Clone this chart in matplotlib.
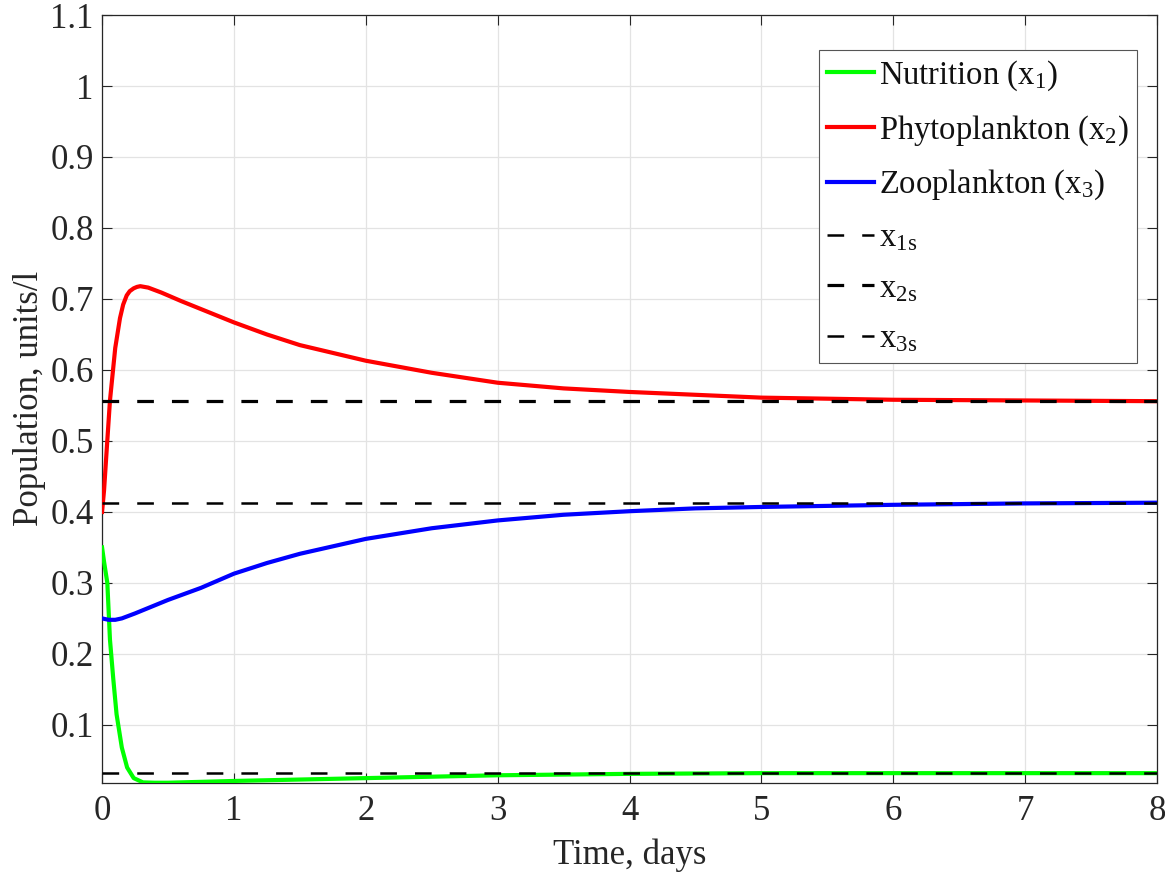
import matplotlib
matplotlib.use("Agg")
import matplotlib.pyplot as plt

plt.rcParams['font.family'] = ['Liberation Serif', 'DejaVu Serif']
plt.rcParams['mathtext.fontset'] = 'custom'
plt.rcParams['mathtext.rm'] = 'Liberation Serif'
plt.rcParams['mathtext.it'] = 'Liberation Serif:italic'
plt.rcParams['lines.scale_dashes'] = False

# ---- data ----
t_nut = [0, 0.015, 0.04, 0.06, 0.085, 0.11, 0.15, 0.19, 0.24, 0.31, 0.4, 0.5, 0.7,
         1.0, 1.5, 2.0, 2.5, 3.0, 3.5, 4.0, 5.0, 6.0, 7.0, 8.0]
nutrition = [0.35, 0.33, 0.30, 0.22, 0.165, 0.115, 0.068, 0.040, 0.025, 0.019, 0.0185,
             0.0185, 0.0195, 0.021, 0.023, 0.025, 0.027, 0.029, 0.030, 0.031, 0.032,
             0.032, 0.032, 0.032]

t_phy = [0, 0.015, 0.035, 0.06, 0.1, 0.136, 0.16, 0.187, 0.21, 0.24, 0.265, 0.29, 0.35,
         0.45, 0.6, 0.8, 1.0, 1.25, 1.5, 2.0, 2.5, 3.0, 3.5, 4.0, 4.5, 5.0, 6.0, 7.0, 8.0]
phyto = [0.40, 0.43, 0.487, 0.557, 0.631, 0.673, 0.692, 0.705, 0.711, 0.715, 0.717,
         0.718, 0.716, 0.709, 0.697, 0.682, 0.667, 0.650, 0.635, 0.613, 0.596, 0.582,
         0.574, 0.569, 0.565, 0.561, 0.558, 0.557, 0.556]

t_zoo = [0, 0.05, 0.1, 0.15, 0.25, 0.5, 0.75, 1.0, 1.25, 1.5, 2.0, 2.5, 3.0, 3.5,
         4.0, 4.5, 5.0, 6.0, 7.0, 8.0]
zoo = [0.250, 0.248, 0.248, 0.250, 0.257, 0.276, 0.293, 0.313, 0.328, 0.341, 0.362,
       0.377, 0.388, 0.396, 0.401, 0.405, 0.407, 0.410, 0.412, 0.413]

steady_labels = [r'x$_\mathrm{1s}$', r'x$_\mathrm{2s}$', r'x$_\mathrm{3s}$']
steady_values = [0.032, 0.556, 0.413]
t_range = [0, 8]

series_labels = [r'Nutrition (x$_\mathrm{1}$)', r'Phytoplankton (x$_\mathrm{2}$)',
                 r'Zooplankton (x$_\mathrm{3}$)']
xticks = [0, 1, 2, 3, 4, 5, 6, 7, 8]
yticks = [0.1, 0.2, 0.3, 0.4, 0.5, 0.6, 0.7, 0.8, 0.9, 1.0, 1.1]
ytick_labels = ['0.1', '0.2', '0.3', '0.4', '0.5', '0.6', '0.7', '0.8', '0.9', '1', '1.1']

# ---- figure ----
fig = plt.figure(figsize=(11.65, 8.73), dpi=100)
ax = fig.add_axes([0.0876, 0.1034, 0.9055, 0.8794])

lw = 3.0
ax.plot(t_nut, nutrition, color='#00ff00', lw=lw, label=series_labels[0], zorder=3)
ax.plot(t_phy, phyto, color='#ff0000', lw=lw, label=series_labels[1], zorder=3)
ax.plot(t_zoo, zoo, color='#0000ff', lw=lw, label=series_labels[2], zorder=3)
for lab, v, w in zip(steady_labels, steady_values, [1.8, 2.3, 1.8]):
    ax.plot(t_range, [v, v], color='black', lw=w, linestyle=(0, (12, 13)),
            label=lab, zorder=4)

ax.set_xlim(0, 8)
ax.set_ylim(0.0185, 1.1)
ax.set_xticks(xticks)
ax.set_yticks(yticks)
ax.set_yticklabels(ytick_labels)
ax.tick_params(direction='in', length=7, width=0.8, top=True, right=True,
               labelsize=25, colors='#262626')
ax.tick_params(axis='y', pad=6)
ax.tick_params(axis='x', pad=9)
for s in ax.spines.values():
    s.set_color('#262626')
    s.set_linewidth(0.9)
ax.grid(True, color='#e3e3e3', lw=0.9)
ax.set_axisbelow(True)

ax.set_xlabel('Time, days', fontsize=25, color='#262626')
ax.set_ylabel('Population, units/l', fontsize=25, color='#262626')
ax.xaxis.set_label_coords(0.5, -0.073)
ax.yaxis.set_label_coords(-0.053, 0.5)

leg = ax.legend(loc='upper right', bbox_to_anchor=(0.981, 0.954), fontsize=23.5,
                frameon=True, fancybox=False, framealpha=1, edgecolor='#555555',
                handlelength=1.45, handletextpad=0.15, labelspacing=0.62,
                borderaxespad=0, borderpad=0.25)
leg.get_frame().set_linewidth(0.8)
for txt in leg.get_texts():
    txt.set_color('#111111')

fig.savefig('out.png', dpi=100, facecolor='white')
